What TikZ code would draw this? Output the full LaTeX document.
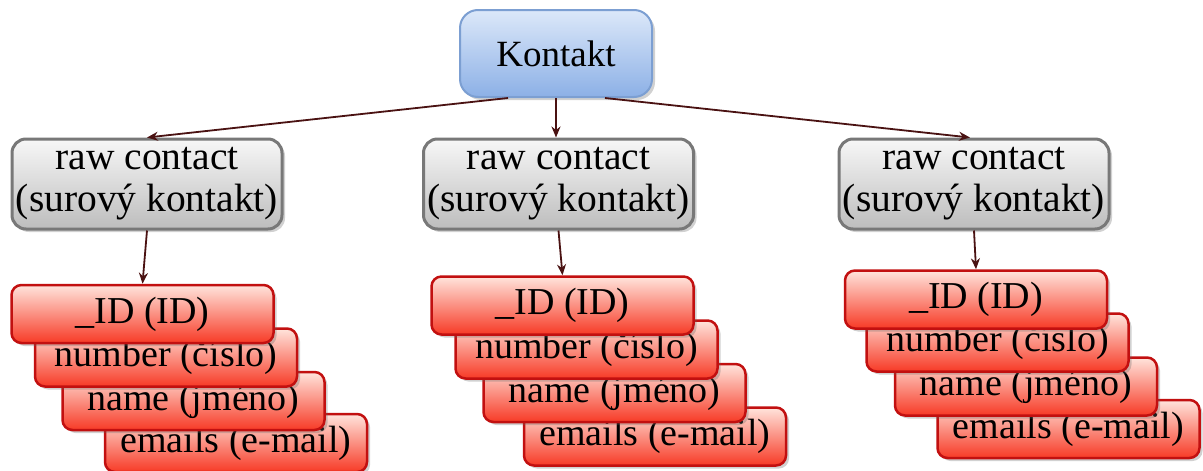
\documentclass[tikz,border=0pt]{standalone}
\usepackage{fontspec}
\setmainfont{Liberation Serif}
\usetikzlibrary{shadows,arrows.meta}

\definecolor{arrowc}{HTML}{4A1212}
\definecolor{bluetop}{HTML}{DCE8F9}
\definecolor{bluebot}{HTML}{8CB0E6}
\definecolor{blueline}{HTML}{7C9FD2}
\definecolor{graytop}{HTML}{F7F7F7}
\definecolor{graybot}{HTML}{BDBDBD}
\definecolor{grayline}{HTML}{787878}
\definecolor{redtop}{HTML}{FFE4DC}
\definecolor{redbot}{HTML}{F73A26}
\definecolor{redline}{HTML}{C21010}

\tikzset{
  boxtext/.style={align=center, inner sep=0pt, text=black},
  softshadow/.style={drop shadow={shadow xshift=3pt, shadow yshift=-3pt, opacity=0.3, fill=black!60}},
  topbox/.style={boxtext, font=\fontsize{37}{41}\selectfont,
    rounded corners=18pt, draw=blueline, line width=2pt,
    top color=bluetop, bottom color=bluebot, softshadow,
    minimum width=192pt, minimum height=87pt},
  rawbox/.style={boxtext, font=\fontsize{39.5}{42}\selectfont,
    rounded corners=14pt, draw=grayline, line width=3pt,
    top color=graytop, bottom color=graybot, softshadow,
    minimum width=270pt, minimum height=90pt},
  fieldbox/.style={boxtext, font=\fontsize{38}{42}\selectfont,
    rounded corners=10pt, draw=redline, line width=2.5pt,
    top color=redtop, bottom color=redbot, softshadow,
    minimum width=262pt, minimum height=58pt},
  arr/.style={draw=arrowc, line width=1.8pt, -{Stealth[length=11pt,width=9pt]}}
}

\begin{document}
\begin{tikzpicture}[x=1pt, y=-1pt]
  \useasboundingbox (0,0) rectangle (1203,471);

  % root
  \node[topbox] (k) at (556,53.5) {Kontakt};

  % raw contacts
  \node[rawbox] (r1) at (147,184) {raw contact\\(surový kontakt)};
  \node[rawbox] (r2) at (558.5,184) {raw contact\\(surový kontakt)};
  \node[rawbox] (r3) at (974,184) {raw contact\\(surový kontakt)};

  % left stack of fields (back to front)
  \node[fieldbox] (e1) at (236,443) {emails (e-mail)};
  \node[fieldbox] (m1) at (193.5,401) {name (jméno)};
  \node[fieldbox] (n1) at (166,357.5) {number (číslo)};
  \node[fieldbox] (i1) at (142.5,314) {\_ID (ID)};

  % middle stack
  \node[fieldbox] (e2) at (655,436.5) {emails (e-mail)};
  \node[fieldbox] (m2) at (614.5,393) {name (jméno)};
  \node[fieldbox] (n2) at (586.5,349.5) {number (číslo)};
  \node[fieldbox] (i2) at (562.5,305.5) {\_ID (ID)};

  % right stack
  \node[fieldbox] (e3) at (1068.5,429) {emails (e-mail)};
  \node[fieldbox] (m3) at (1026,386.5) {name (jméno)};
  \node[fieldbox] (n3) at (997.5,342.5) {number (číslo)};
  \node[fieldbox] (i3) at (976,299.5) {\_ID (ID)};

  % connectors
  \draw[arr] ([xshift=-48pt]k.south) -- (r1.north);
  \draw[arr] (k.south) -- (k.south |- r2.north);
  \draw[arr] ([xshift=49pt]k.south) -- ([xshift=-4pt]r3.north);
  \draw[arr] (r1.south) -- (i1.north);
  \draw[arr] (r2.south) -- (i2.north);
  \draw[arr] (r3.south) -- (i3.north);
\end{tikzpicture}
\end{document}
